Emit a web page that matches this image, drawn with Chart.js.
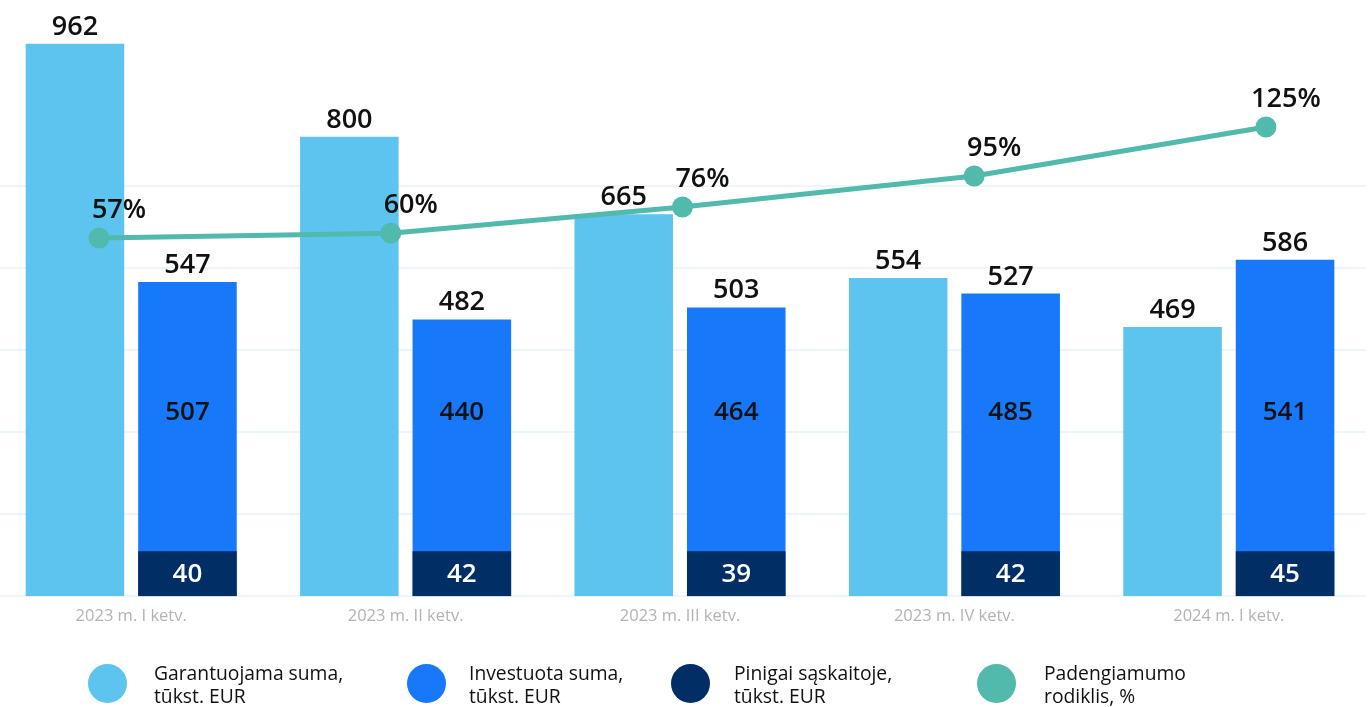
<!DOCTYPE html>
<html><head><meta charset="utf-8">
<script src="https://cdn.jsdelivr.net/npm/chart.js@4/dist/chart.umd.min.js"></script>
<style>
html,body{margin:0;padding:0;background:#fff;width:1370px;height:707px;overflow:hidden;font-family:'Open Sans',sans-serif;}
.wrap{position:absolute;left:-6px;top:0;width:1372px;height:707px;}
.lg-dot{position:absolute;width:39px;height:39px;border-radius:50%;top:664px;}
.lg-txt{position:absolute;top:661px;font-size:19.3px;line-height:23px;color:#111;white-space:nowrap;}
</style></head><body>
<div class="wrap"><canvas id="bars"></canvas></div>
<div class="wrap"><canvas id="line"></canvas></div>
<div id="legend"></div>
<script>
const categories = ['2023 m. I ketv.', '2023 m. II ketv.', '2023 m. III ketv.', '2023 m. IV ketv.', '2024 m. I ketv.'];
const guaranteed = [962, 800, 665, 554, 469];
const invested = [507, 440, 464, 485, 541];
const cash = [40, 42, 39, 42, 45];
const coverage = [57, 60, 76, 95, 125];
const seriesNames = [
  ['Garantuojama suma,', 'tūkst. EUR'],
  ['Investuota suma,', 'tūkst. EUR'],
  ['Pinigai sąskaitoje,', 'tūkst. EUR'],
  ['Padengiamumo', 'rodiklis, %']
];
const colors = ['#5dc4f0', '#1778f9', '#022e66', '#52b9ad'];

const investedTotal = invested.map((v, i) => v + cash[i]);
const coveragePoints = coverage.map((v, i) => ({x: i, y: v}));

Chart.defaults.font.family = "'Open Sans', sans-serif";
const topFont = "600 27px 'Open Sans'";
const inFont = "600 26px 'Open Sans'";

const barLabels = {
  id: 'barLabels',
  afterDatasetsDraw(chart) {
    const ctx = chart.ctx, area = chart.chartArea;
    ctx.save();
    ctx.textAlign = 'center';
    chart.getDatasetMeta(0).data.forEach((el, i) => {
      ctx.font = topFont; ctx.fillStyle = '#111'; ctx.textBaseline = 'alphabetic';
      ctx.fillText(String(guaranteed[i]), el.x, el.y - 9);
    });
    chart.getDatasetMeta(1).data.forEach((el, i) => {
      ctx.font = inFont; ctx.fillStyle = '#fff'; ctx.textBaseline = 'middle';
      ctx.fillText(String(cash[i]), el.x, (el.y + el.base) / 2 + 1);
    });
    chart.getDatasetMeta(2).data.forEach((el, i) => {
      ctx.font = inFont; ctx.fillStyle = '#111'; ctx.textBaseline = 'middle';
      ctx.fillText(String(invested[i]), el.x, area.bottom - 184);
      ctx.font = topFont; ctx.textBaseline = 'alphabetic';
      ctx.fillText(String(investedTotal[i]), el.x, el.y - 9);
    });
    ctx.restore();
  }
};

const lineLabels = {
  id: 'lineLabels',
  afterDatasetsDraw(chart) {
    const ctx = chart.ctx;
    ctx.save();
    ctx.textAlign = 'center'; ctx.textBaseline = 'alphabetic';
    ctx.font = topFont; ctx.fillStyle = '#111';
    chart.getDatasetMeta(0).data.forEach((el, i) => {
      ctx.fillText(coverage[i] + '%', el.x + 20, el.y - 20);
    });
    ctx.restore();
  }
};

const barOpts = {categoryPercentage: 0.82, barPercentage: 0.876, borderWidth: 0};

const barChart = new Chart(document.getElementById('bars'), {
  type: 'bar',
  data: {
    labels: categories,
    datasets: [
      Object.assign({label: seriesNames[0].join(' '), data: guaranteed, backgroundColor: colors[0], stack: 'a'}, barOpts),
      Object.assign({label: seriesNames[2].join(' '), data: cash, backgroundColor: colors[2], stack: 'b', minBarLength: 45}, barOpts),
      Object.assign({label: seriesNames[1].join(' '), data: investedTotal, backgroundColor: colors[1], stack: 'b'}, barOpts)
    ]
  },
  options: {
    responsive: true, maintainAspectRatio: false, animation: false,
    layout: {autoPadding: false, padding: {top: 22, bottom: 71, left: 0, right: 0}},
    plugins: {legend: {display: false}, tooltip: {enabled: false}},
    scales: {
      x: {type: 'category', offset: true, stacked: true,
          grid: {display: false, drawTicks: false}, border: {display: false},
          ticks: {color: '#b3b3b3', font: {size: 16.5}, padding: 10, maxRotation: 0}},
      y: {type: 'linear', display: false, stacked: false, min: 0, max: 1000},
      yGrid: {type: 'linear', position: 'left', min: 0, max: 7,
              ticks: {display: false, stepSize: 1}, border: {display: false},
              grid: {drawTicks: false, lineWidth: 2,
                     color: c => (c.tick && c.tick.value <= 5) ? '#edf6fc' : 'rgba(0,0,0,0)'}}
    }
  },
  plugins: [barLabels]
});

const area = barChart.chartArea;
new Chart(document.getElementById('line'), {
  type: 'line',
  data: {
    datasets: [{
      label: seriesNames[3].join(' '), data: coveragePoints,
      borderColor: colors[3], backgroundColor: colors[3], borderWidth: 5, pointRadius: 10.5,
      pointBackgroundColor: colors[3], pointBorderWidth: 0, tension: 0
    }]
  },
  options: {
    responsive: true, maintainAspectRatio: false, animation: false,
    layout: {autoPadding: false, padding: {
      top: area.top, bottom: barChart.height - area.bottom,
      left: area.left, right: barChart.width - area.right}},
    plugins: {legend: {display: false}, tooltip: {enabled: false}},
    scales: {
      x: {type: 'linear', display: false, offset: false, min: -0.36, max: 4.343},
      y: {type: 'linear', display: false, offset: false, min: -162.3, max: 189.3}
    }
  },
  plugins: [lineLabels]
});

const legendLayout = [
  {dot: 107, txt: 154}, {dot: 426, txt: 469}, {dot: 690, txt: 734}, {dot: 996, txt: 1044}
];
const lg = document.getElementById('legend');
seriesNames.forEach((lines, i) => {
  const d = document.createElement('div');
  d.className = 'lg-dot';
  d.style.left = (legendLayout[i].dot - 19.5) + 'px';
  d.style.background = colors[i];
  lg.appendChild(d);
  const t = document.createElement('div');
  t.className = 'lg-txt';
  t.style.left = legendLayout[i].txt + 'px';
  t.innerHTML = lines.join('<br>');
  lg.appendChild(t);
});
</script>
</body></html>
